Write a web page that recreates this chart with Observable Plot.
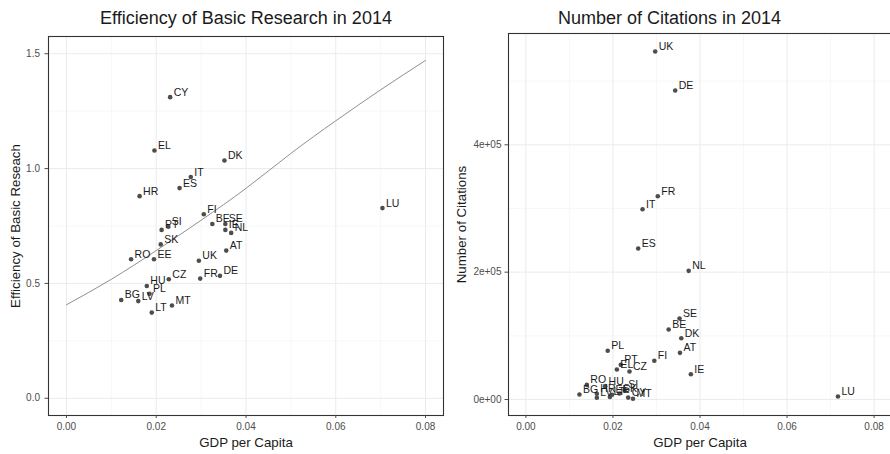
<!DOCTYPE html>
<html>
<head>
<meta charset="utf-8">
<script src="https://cdn.jsdelivr.net/npm/d3@7"></script>
<script src="https://cdn.jsdelivr.net/npm/@observablehq/plot@0.6"></script>
<style>
  html, body { margin: 0; padding: 0; background: #fff; }
  #wrap { display: flex; width: 890px; height: 454px; overflow: hidden; }
  #wrap svg { display: block; flex: none; }
</style>
</head>
<body>
<div id="wrap"></div>
<script>
// ---- Left panel: efficiency of basic research vs GDP per capita ----
const effCountries = ["CY","EL","DK","IT","ES","HR","FI","BE","SE","IE","NL","LU","PT","SI","SK","AT","RO","EE","UK","CZ","FR","DE","HU","PL","BG","LV","MT","LT"];
const effGdp = [0.0231,0.0196,0.0352,0.0277,0.0252,0.0163,0.0306,0.0325,0.0354,0.0354,0.0367,0.0704,0.0212,0.0227,0.0210,0.0356,0.0144,0.0195,0.0295,0.0228,0.0298,0.0342,0.0179,0.0185,0.0122,0.0160,0.0235,0.0190];
const effValue = [1.311,1.079,1.035,0.963,0.915,0.880,0.801,0.759,0.759,0.733,0.720,0.828,0.733,0.747,0.670,0.643,0.605,0.605,0.599,0.518,0.521,0.533,0.489,0.455,0.428,0.423,0.404,0.373];

// fitted curve
const smoothGdp = [0.00,0.01,0.02,0.03,0.04,0.05,0.06,0.07,0.08];
const smoothValue = [0.407,0.518,0.643,0.775,0.914,1.066,1.208,1.343,1.471];

// ---- Right panel: number of citations vs GDP per capita ----
const citCountries = ["UK","DE","FR","IT","ES","NL","SE","BE","DK","PL","AT","FI","PT","EL","CZ","IE","LU","MT","RO","HU","BG","HR","LV","EE","LT","SK","SI","CY"];
const citGdp = [0.0297,0.0343,0.0303,0.0268,0.0258,0.0374,0.0353,0.0328,0.0357,0.0188,0.0354,0.0295,0.0218,0.0209,0.0238,0.0379,0.0717,0.0246,0.0140,0.0182,0.0123,0.0163,0.0163,0.0198,0.0193,0.0215,0.0227,0.0235];
const citValue = [546500,485300,319300,298900,237100,202100,127200,109900,96300,76500,73300,60800,54500,47100,44000,39700,4700,1100,23000,21000,7900,9000,2700,7500,4000,9500,15000,3000];

// ticks
const xMajor = [0,0.02,0.04,0.06,0.08];
const xMinor = [0.01,0.03,0.05,0.07];
const effMajor = [0,0.5,1.0,1.5];
const effMinor = [0.25,0.75,1.25];
const citMajor = [0,200000,400000];
const citMinor = [100000,300000,500000];
const citTickLabels = ["0e+00","2e+05","4e+05"];

const titles = ["Efficiency of Basic Research in 2014", "Number of Citations in 2014"];
const xTitle = "GDP per Capita";
const yTitles = ["Efficiency of Basic Reseach", "Number of Citations"];

const effData = effCountries.map((c, i) => ({country: c, gdp: effGdp[i], value: effValue[i]}));
const smoothData = smoothGdp.map((g, i) => ({gdp: g, value: smoothValue[i]}));
const citData = citCountries.map((c, i) => ({country: c, gdp: citGdp[i], value: citValue[i]}));

const FONT = "'Liberation Sans', Arial, Helvetica, sans-serif";
const MAJOR = "#ebebeb", MINOR = "#f4f4f4";

function panel({width, marginLeft, marginRight, marginTop, yDomain, yMajor, yMinor, yFormat, yPad, yTitleDx, title, titleDx, data, extra}) {
  return Plot.plot({
    width, height: 454, marginLeft, marginRight, marginTop, marginBottom: 39,
    style: {fontFamily: FONT, background: "#fff", overflow: "visible"},
    x: {domain: [-0.004, 0.084]},
    y: {domain: yDomain},
    marks: [
      Plot.ruleX(xMinor, {stroke: MINOR, strokeWidth: 0.7}),
      Plot.ruleY(yMinor, {stroke: MINOR, strokeWidth: 0.7}),
      Plot.ruleX(xMajor, {stroke: MAJOR, strokeWidth: 1}),
      Plot.ruleY(yMajor, {stroke: MAJOR, strokeWidth: 1}),
      ...(extra || []),
      Plot.dot(data, {x: "gdp", y: "value", r: 2.3, fill: "#4d4d4d"}),
      Plot.text(data, {x: "gdp", y: "value", text: "country", dx: 3.5, dy: -1.5,
        textAnchor: "start", lineAnchor: "bottom", fontSize: 10.5, fill: "#1a1a1a"}),
      Plot.frame({stroke: "#333", strokeWidth: 1.1}),
      Plot.axisX({ticks: xMajor, tickFormat: d3.format(".2f"), tickSize: 3, tickPadding: 4.3,
        fontSize: 10, color: "#4d4d4d", label: null}),
      Plot.axisY({ticks: yMajor, tickFormat: yFormat, tickSize: 3.5, tickPadding: yPad,
        fontSize: 10, color: "#4d4d4d", label: null}),
      Plot.text([xTitle], {frameAnchor: "bottom", dy: 31, lineAnchor: "bottom",
        fontSize: 13.3, fill: "#1a1a1a"}),
      Plot.text([title.y], {frameAnchor: "left", dx: yTitleDx, rotate: -90,
        lineAnchor: "bottom", textAnchor: "middle", fontSize: 13.3, fill: "#1a1a1a"}),
      Plot.text([title.main], {frameAnchor: "top", dx: titleDx, dy: 23 - marginTop,
        lineAnchor: "bottom", fontSize: 18, fill: "#1a1a1a"})
    ]
  });
}

const left = panel({
  width: 445, marginLeft: 48, marginRight: 2, marginTop: 36,
  yDomain: [-0.075, 1.575], yMajor: effMajor, yMinor: effMinor,
  yFormat: d3.format(".1f"), yPad: 5, yTitleDx: -29,
  title: {main: titles[0], y: yTitles[0]}, titleDx: 0,
  data: effData,
  extra: [Plot.line(smoothData, {x: "gdp", y: "value", stroke: "#8f8f8f", strokeWidth: 1, curve: "natural"})]
});

const right = panel({
  width: 446, marginLeft: 63, marginRight: 0, marginTop: 33,
  yDomain: [-25100, 574800], yMajor: citMajor, yMinor: citMinor,
  yFormat: (d, i) => citTickLabels[citMajor.indexOf(d)], yPad: 3.5, yTitleDx: -42.5,
  title: {main: titles[1], y: yTitles[1]}, titleDx: -30.5,
  data: citData
});

document.getElementById("wrap").append(left, right);
</script>
</body>
</html>
